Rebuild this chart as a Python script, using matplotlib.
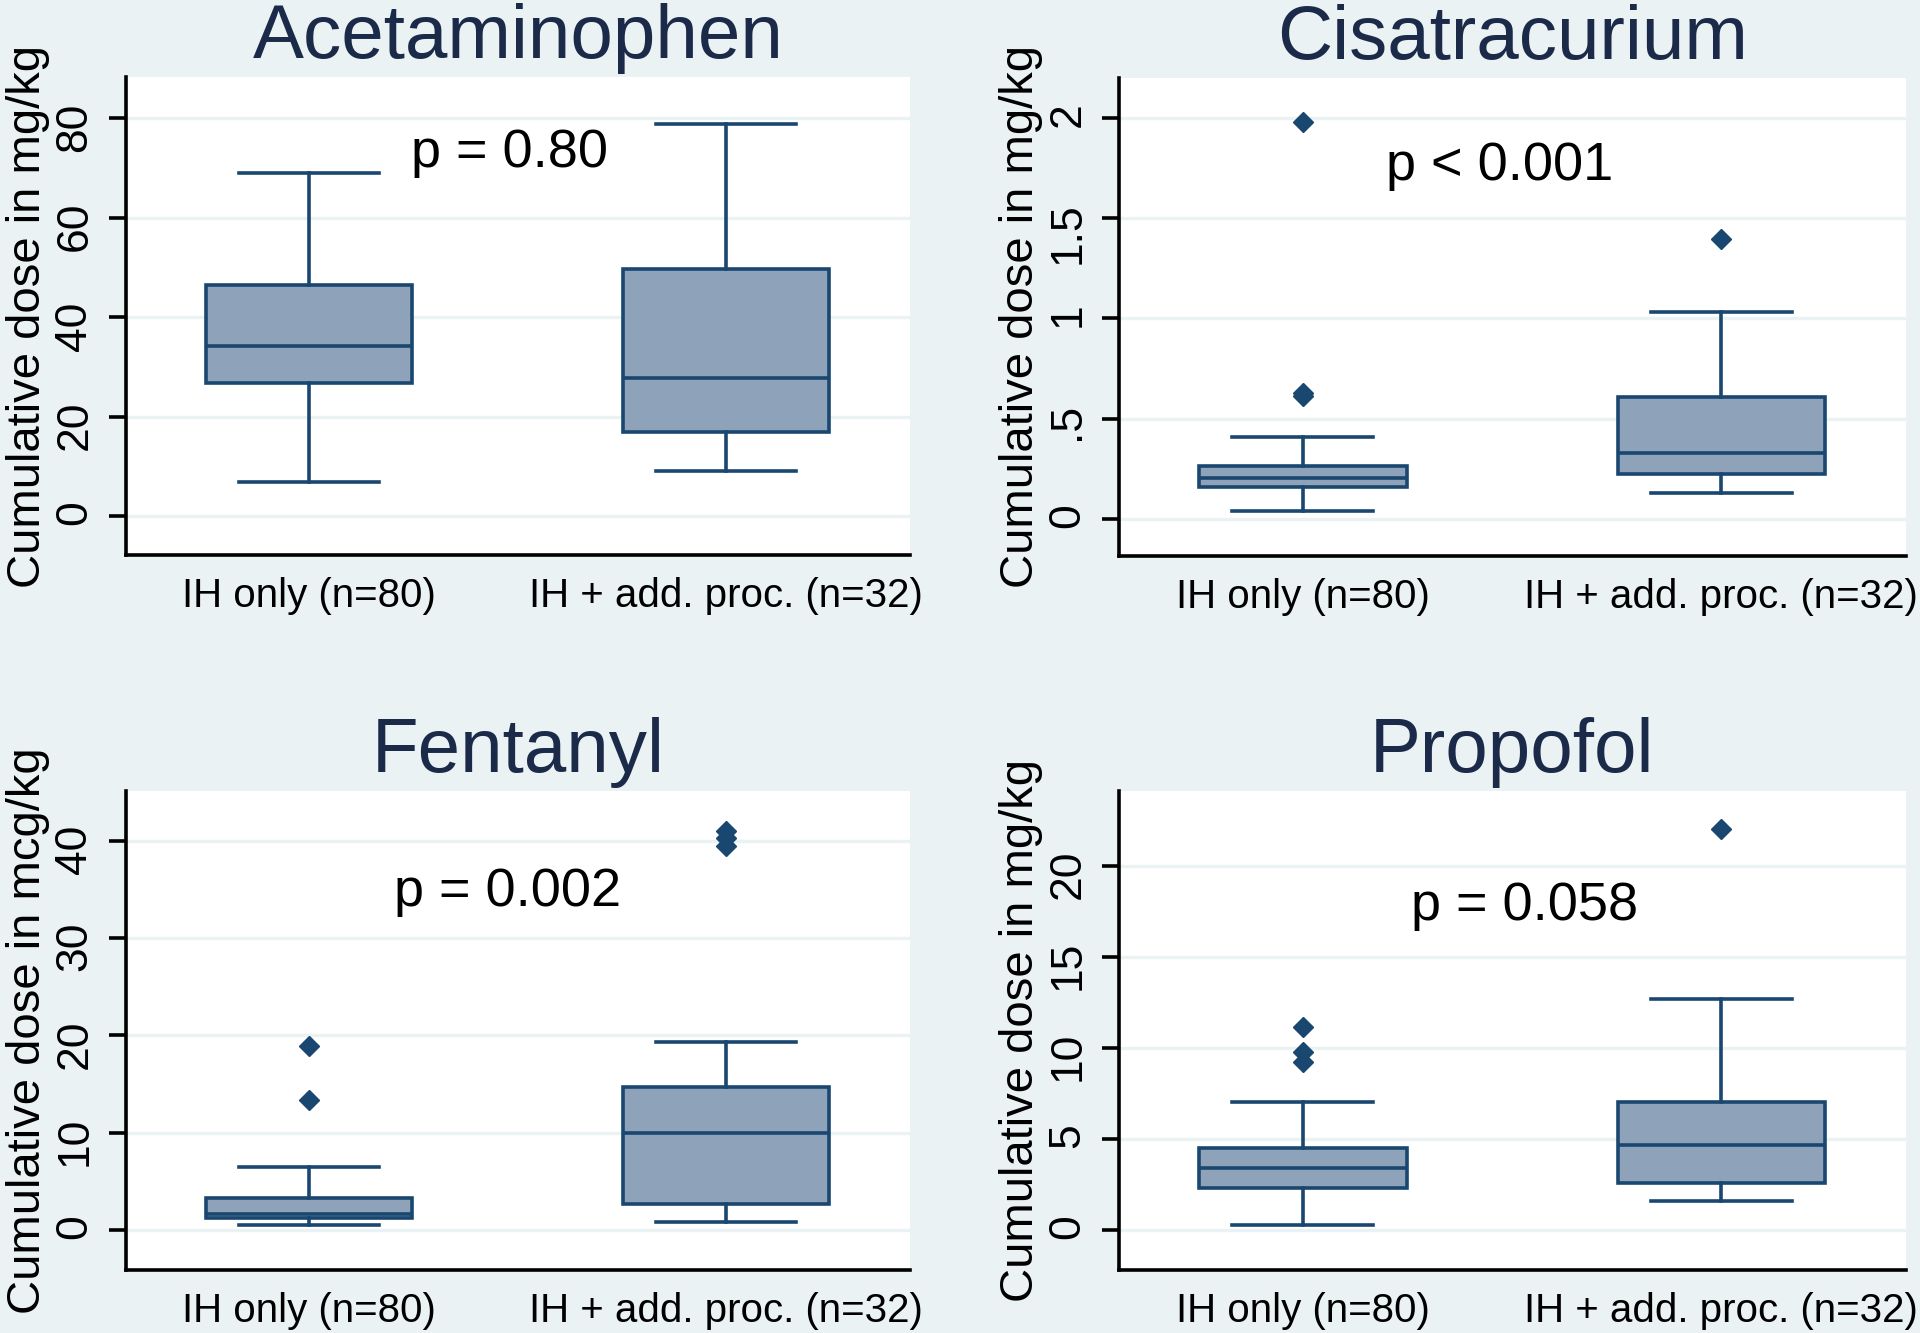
import matplotlib
matplotlib.use("Agg")
import matplotlib.pyplot as plt

plt.rcParams['font.family'] = ['Liberation Sans', 'DejaVu Sans']

# ---- data ----
drugs = ["Acetaminophen", "Cisatracurium", "Fentanyl", "Propofol"]
groups = ["IH only (n=80)", "IH + add. proc. (n=32)"]
ylabels = ["Cumulative dose in mg/kg", "Cumulative dose in mg/kg",
           "Cumulative dose in mcg/kg", "Cumulative dose in mg/kg"]
p_texts = ["p = 0.80", "p < 0.001", "p = 0.002", "p = 0.058"]

median = [[34.2, 27.7], [0.203, 0.329], [1.65, 9.98], [3.40, 4.69]]
q1 = [[26.7, 16.9], [0.161, 0.223], [1.26, 2.66], [2.34, 2.62]]
q3 = [[46.5, 49.6], [0.266, 0.609], [3.25, 14.66], [4.54, 7.03]]
whisk_lo = [[6.9, 9.0], [0.040, 0.127], [0.51, 0.78], [0.28, 1.61]]
whisk_hi = [[68.9, 78.9], [0.410, 1.033], [6.46, 19.3], [7.03, 12.7]]
outliers = [[[], []],
            [[1.978, 0.630, 0.615], [1.396]],
            [[18.9, 13.4], [41.0, 40.3, 39.4]],
            [[11.17, 9.77, 9.23], [22.0]]]

yticks = [[0, 20, 40, 60, 80], [0, 0.5, 1, 1.5, 2],
          [0, 10, 20, 30, 40], [0, 5, 10, 15, 20]]
ytick_labels = [["0", "20", "40", "60", "80"], ["0", ".5", "1", "1.5", "2"],
                ["0", "10", "20", "30", "40"], ["0", "5", "10", "15", "20"]]

# ---- layout / style ----
ylims = [(-7.85, 88.3), (-0.185, 2.2), (-4.1, 45.1), (-2.17, 24.1)]
p_pos = [(1.48, 73.0), (1.47, 1.76), (1.477, 34.7), (1.53, 17.8)]
ax_rects = [[0.0656, 0.5836, 0.4083, 0.3586],
            [0.5828, 0.5829, 0.4099, 0.3586],
            [0.0656, 0.0473, 0.4083, 0.3593],
            [0.5828, 0.0473, 0.4099, 0.3593]]

bg = '#EAF2F3'
navy = '#1A476F'
box_fill = '#8EA3B9'
title_col = '#1C2A4A'
lw = 2.6

fig = plt.figure(figsize=(19.2, 13.33), dpi=100, facecolor=bg)

for i in range(4):
    ax = fig.add_axes(ax_rects[i])
    ax.set_facecolor('white')
    stats = []
    for j in range(2):
        stats.append(dict(med=median[i][j], q1=q1[i][j], q3=q3[i][j],
                          whislo=whisk_lo[i][j], whishi=whisk_hi[i][j],
                          fliers=outliers[i][j]))
    ax.bxp(stats, positions=[1, 2], widths=0.496, capwidths=0.336,
           patch_artist=True, showfliers=True,
           boxprops=dict(facecolor=box_fill, edgecolor=navy, linewidth=lw),
           medianprops=dict(color=navy, linewidth=lw),
           whiskerprops=dict(color=navy, linewidth=lw),
           capprops=dict(color=navy, linewidth=lw),
           flierprops=dict(marker='D', markerfacecolor=navy,
                           markeredgecolor=navy, markersize=10))

    ax.set_xlim(0.561, 2.441)
    ax.set_ylim(*ylims[i])
    ax.set_xticks([1, 2])
    ax.set_xticklabels(groups)
    ax.set_yticks(yticks[i])
    ax.set_yticklabels(ytick_labels[i])

    ax.yaxis.grid(True, color=bg, linewidth=2.4)
    ax.set_axisbelow(True)

    for s in ['top', 'right']:
        ax.spines[s].set_visible(False)
    for s in ['left', 'bottom']:
        ax.spines[s].set_linewidth(2.6)
        ax.spines[s].set_color('black')

    ax.tick_params(axis='y', length=12, width=2.6, pad=10, labelsize=32,
                   labelrotation=90)
    ax.tick_params(axis='x', length=0, pad=16, labelsize=29)

    ax.set_title(drugs[i], fontsize=55, color=title_col, pad=14)
    ax.set_ylabel(ylabels[i], fontsize=34, labelpad=3)
    ax.text(p_pos[i][0], p_pos[i][1], p_texts[i], fontsize=39,
            ha='center', va='center', color='black')

fig.savefig('out.png', dpi=100, facecolor=bg)
